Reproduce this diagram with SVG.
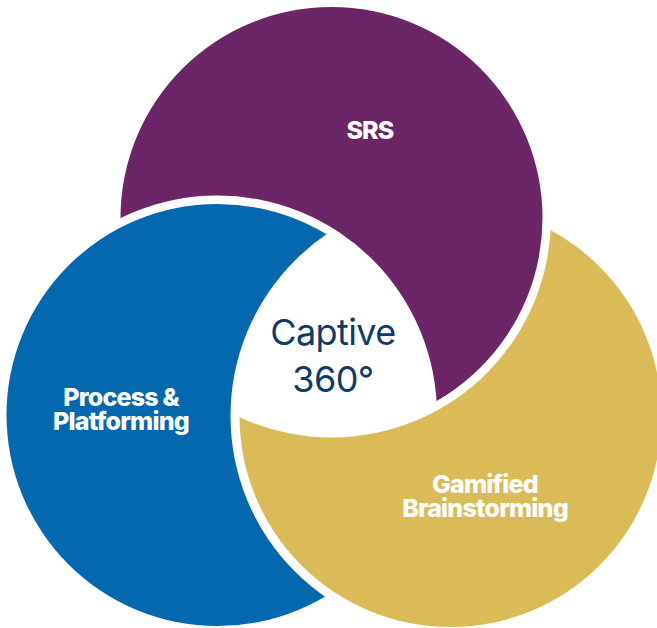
<svg xmlns="http://www.w3.org/2000/svg" width="657" height="628" viewBox="0 0 657 628">
  <style>
    .lbl { font-family: Inter, "Noto Sans", "Liberation Sans", sans-serif; font-weight: 800; fill: #ffffff; text-anchor: middle; letter-spacing: -0.8px; font-size: 25px; }
    .core { font-family: Inter, "Noto Sans", "Liberation Sans", sans-serif; font-weight: 400; fill: #0d3b6c; text-anchor: middle; font-size: 36px; letter-spacing: -0.6px; }
  </style>
  <defs>
    <mask id="cutByGold" maskUnits="userSpaceOnUse" x="0" y="0" width="657" height="628">
      <rect x="0" y="0" width="657" height="628" fill="#fff"/>
      <circle cx="450.5" cy="416" r="220" fill="#000"/>
    </mask>
    <mask id="cutByBlue" maskUnits="userSpaceOnUse" x="0" y="0" width="657" height="628">
      <rect x="0" y="0" width="657" height="628" fill="#fff"/>
      <circle cx="217.5" cy="415" r="219.5" fill="#000"/>
    </mask>
    <mask id="cutByPurple" maskUnits="userSpaceOnUse" x="0" y="0" width="657" height="628">
      <rect x="0" y="0" width="657" height="628" fill="#fff"/>
      <circle cx="331.5" cy="218" r="219.5" fill="#000"/>
    </mask>
  </defs>
  <rect x="0" y="0" width="657" height="628" fill="#ffffff"/>
  <g id="srs">
    <circle cx="331.5" cy="218" r="211" fill="#6c2667" mask="url(#cutByBlue)"/>
    <text class="lbl" x="370" y="139">SRS</text>
  </g>
  <g id="process-platforming">
    <circle cx="217.5" cy="415" r="211" fill="#0468ae" mask="url(#cutByGold)"/>
    <text class="lbl" x="121" y="406">Process &amp;</text>
    <text class="lbl" x="121" y="430">Platforming</text>
  </g>
  <g id="gamified-brainstorming">
    <circle cx="450.5" cy="416" r="211" fill="#dbbb58" mask="url(#cutByPurple)"/>
    <text class="lbl" x="485" y="493">Gamified</text>
    <text class="lbl" x="485" y="517">Brainstorming</text>
  </g>
  <g id="captive-360">
    <text class="core" x="333" y="345">Captive</text>
    <text class="core" x="333" y="392">360°</text>
  </g>
  <g id="connectors"/>
</svg>
